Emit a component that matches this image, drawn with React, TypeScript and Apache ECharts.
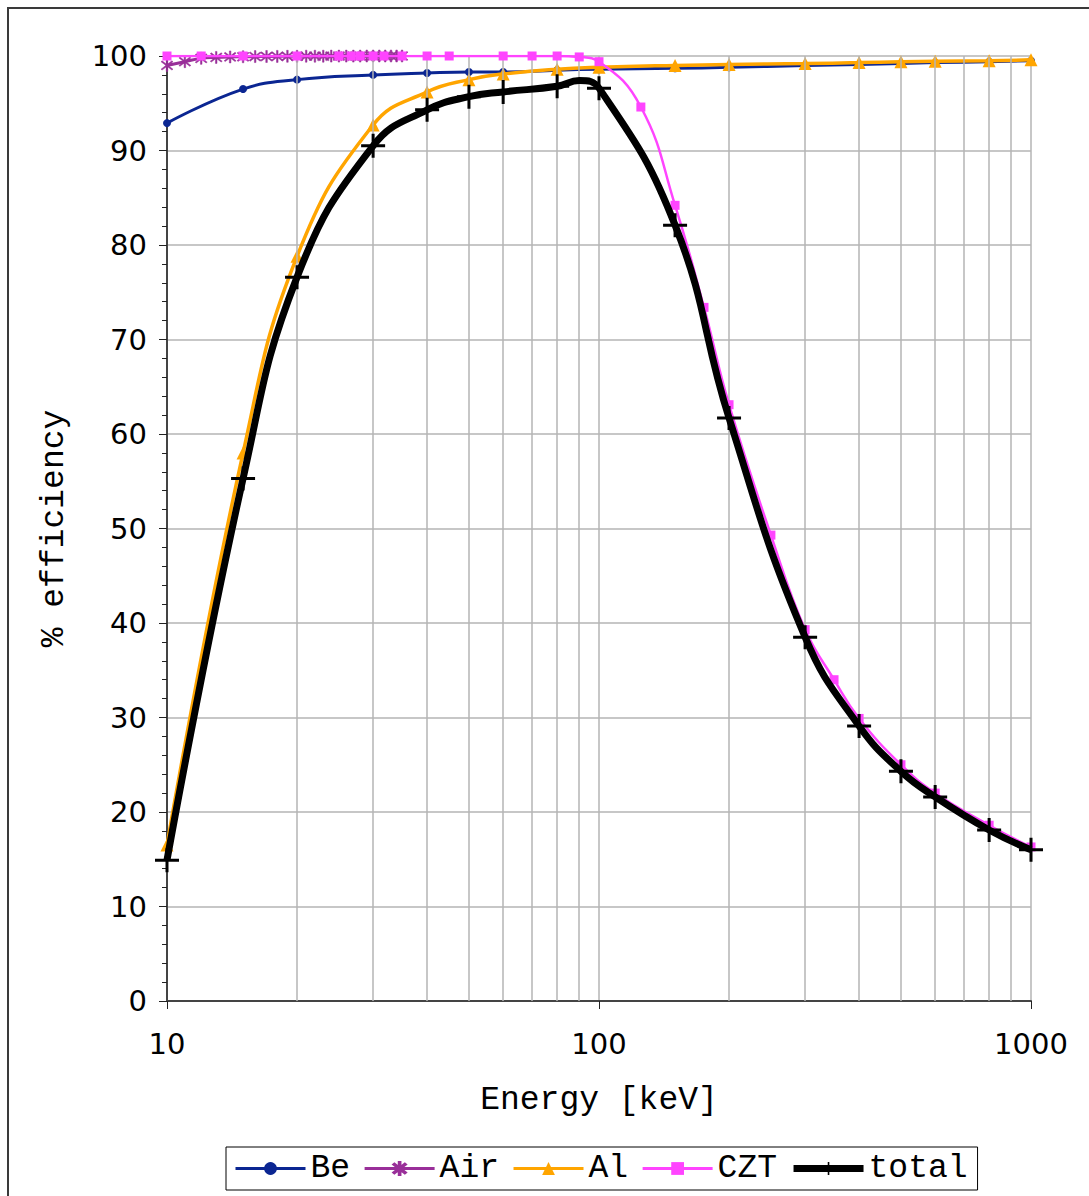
import React, { useEffect, useRef } from "react";
import * as echarts from "echarts";

const energies = [10, 15, 20, 30, 40, 50, 60, 80, 100, 150, 200, 300, 400, 500, 600, 800, 1000];
const beValues = [92.9, 96.5, 97.5, 98.0, 98.2, 98.3, 98.3, 98.5, 98.6, 98.7, 98.8, 99.0, 99.1, 99.2, 99.3, 99.4, 99.5];
const alValues = [16.5, 58.0, 78.8, 92.7, 96.2, 97.5, 98.1, 98.6, 98.8, 99.0, 99.1, 99.2, 99.3, 99.4, 99.45, 99.5, 99.6];

const airEnergies = [10, 11, 12, 13, 14, 15, 16, 17, 18, 19, 20, 21, 22, 23, 24, 25, 26, 27, 28, 29, 30, 31, 32, 33, 34, 35];
const airValues = [99.0, 99.4, 99.75, 99.85, 99.9, 99.92, 99.94, 99.95, 99.96, 99.97, 99.97, 99.98, 99.98, 99.98, 99.99, 99.99, 99.99, 99.99, 99.99, 100, 100, 100, 100, 100, 100, 100];

const cztEnergies = [10, 12, 15, 20, 25, 26.7, 28, 30, 31.8, 35, 40, 45, 60, 70, 80, 90, 100, 125, 150, 175, 200, 250, 300, 350, 400, 500, 600, 800, 1000];
const cztValues = [100, 100, 100, 100, 100, 100, 100, 100, 100, 100, 100, 100, 100, 100, 100, 99.9, 99.4, 94.6, 84.2, 73.4, 63.1, 49.3, 39.3, 34.0, 29.9, 25.0, 22.0, 18.6, 16.3];

const totalEnergies = [10, 15, 20, 30, 40, 50, 60, 80, 90, 100, 150, 200, 300, 400, 500, 600, 800, 1000];
const totalValues = [14.9, 55.3, 76.6, 90.5, 94.3, 95.7, 96.2, 96.8, 97.4, 96.6, 82.1, 61.7, 38.5, 29.1, 24.3, 21.6, 18.1, 16.0];
const totalUnmarked = [90];

const minorGridEnergies = [20, 30, 40, 50, 60, 70, 80, 90, 200, 300, 400, 500, 600, 700, 800, 900];
const tickEnergies = [10, 20, 30, 40, 50, 60, 70, 80, 90, 100, 200, 300, 400, 500, 600, 700, 800, 900, 1000];

const PLUS = "path://M-1.5,-12 L1.5,-12 L1.5,-1.5 L12,-1.5 L12,1.5 L1.5,1.5 L1.5,12 L-1.5,12 L-1.5,1.5 L-12,1.5 L-12,-1.5 L-1.5,-1.5 Z";
const STAR = "path://M-1,-10 L1,-10 L1,10 L-1,10 Z M-7.7,-6.3 L-6.3,-7.7 L7.7,6.3 L6.3,7.7 Z M-7.7,6.3 L6.3,-7.7 L7.7,-6.3 L-6.3,7.7 Z";

const MONO = "Liberation Mono";
const SANS = "DejaVu Sans";

export default function App() {
  const ref = useRef<HTMLDivElement>(null);
  useEffect(() => {
    if (!ref.current) return;
    const chart = echarts.init(ref.current, null, { renderer: "svg" });
    const zip = (xs: number[], ys: number[]) => xs.map((x, i) => [x, ys[i]]);
    const SMOOTH = 0.45;
    const option: any = {
      animation: false,
      backgroundColor: "#ffffff",
      graphic: [
        {
          type: "rect",
          shape: { x: 8, y: 8, width: 1100, height: 1200 },
          style: { fill: "none", stroke: "#3a3a3a", lineWidth: 2 },
          silent: true,
        },
      ],
      grid: { left: 167, right: 58, top: 56, bottom: 195, containLabel: false },
      legend: {
        data: [
          { name: "Be", lineStyle: { width: 3 } },
          { name: "Air", lineStyle: { width: 3 } },
          { name: "Al", lineStyle: { width: 3 } },
          { name: "CZT", lineStyle: { width: 3 } },
          { name: "total", lineStyle: { width: 7 } },
        ],
        left: 226,
        top: 1147,
        orient: "horizontal",
        itemWidth: 70,
        itemHeight: 16,
        itemGap: 13,
        padding: [5, 10, 5, 8],
        borderColor: "#000",
        borderWidth: 1,
        textStyle: { fontFamily: MONO, fontSize: 33, color: "#000" },
      },
      xAxis: {
        type: "log",
        logBase: 10,
        min: 10,
        max: 1000,
        name: "Energy [keV]",
        nameLocation: "middle",
        nameGap: 83,
        nameTextStyle: { fontFamily: MONO, fontSize: 33, color: "#000" },
        axisLine: { show: true, onZero: false, lineStyle: { color: "#444", width: 2 } },
        axisTick: { show: true, length: 8, lineStyle: { color: "#222", width: 1 } },
        axisLabel: { fontFamily: SANS, fontSize: 29, color: "#000", margin: 28, formatter: (v: number) => String(Math.round(v)) },
        splitLine: { show: true, lineStyle: { color: "#b4b4b4", width: 1.5 } },
        minorTick: { show: false },
        minorSplitLine: { show: false },
      },
      yAxis: {
        type: "value",
        min: 0,
        max: 100,
        interval: 10,
        name: "% efficiency",
        nameLocation: "middle",
        nameGap: 96,
        nameRotate: 90,
        nameTextStyle: { fontFamily: MONO, fontSize: 33, color: "#000" },
        axisLine: { show: true, lineStyle: { color: "#444", width: 2 } },
        axisTick: { show: true, length: 8, lineStyle: { color: "#222", width: 1 } },
        minorTick: { show: true, splitNumber: 5, length: 5, lineStyle: { color: "#222", width: 1 } },
        axisLabel: { fontFamily: SANS, fontSize: 29, color: "#000", margin: 20 },
        splitLine: { show: true, lineStyle: { color: "#b4b4b4", width: 1.5 } },
      },
      series: [
        {
          name: "grid",
          type: "line",
          data: [],
          clip: false,
          silent: true,
          z: 0,
          markLine: {
            silent: true,
            symbol: "none",
            label: { show: false },
            animation: false,
            lineStyle: { color: "#b4b4b4", width: 1.5, type: "solid" },
            data: minorGridEnergies.map((e) => ({ xAxis: e })),
          },
        },
        {
          name: "ticks",
          type: "line",
          data: [],
          clip: false,
          silent: true,
          z: 0,
          markLine: {
            silent: true,
            symbol: "none",
            label: { show: false },
            animation: false,
            lineStyle: { color: "#222", width: 1, type: "solid" },
            data: tickEnergies.map((e) => [{ coord: [e, 0] }, { coord: [e, -0.85] }]),
          },
        },
        {
          name: "Be",
          type: "line",
          smooth: SMOOTH,
          data: zip(energies, beValues),
          symbol: "circle",
          symbolSize: 8,
          lineStyle: { color: "#0b2692", width: 3 },
          itemStyle: { color: "#0b2692" },
          z: 2,
        },
        {
          name: "Air",
          type: "line",
          smooth: SMOOTH,
          data: zip(airEnergies, airValues),
          symbol: STAR,
          symbolSize: 12,
          lineStyle: { color: "#992f99", width: 3 },
          itemStyle: { color: "#992f99", borderColor: "#992f99", borderWidth: 0.5 },
          z: 3,
        },
        {
          name: "Al",
          type: "line",
          smooth: SMOOTH,
          data: zip(energies, alValues),
          symbol: "triangle",
          symbolSize: 13,
          lineStyle: { color: "#ffa500", width: 3.5 },
          itemStyle: { color: "#ffa500" },
          z: 4,
        },
        {
          name: "CZT",
          type: "line",
          smooth: SMOOTH,
          data: zip(cztEnergies, cztValues),
          symbol: "rect",
          symbolSize: 9,
          lineStyle: { color: "#ff44ff", width: 2.5 },
          itemStyle: { color: "#ff44ff" },
          z: 5,
        },
        {
          name: "total",
          type: "line",
          smooth: SMOOTH,
          data: totalEnergies.map((e, i) =>
            totalUnmarked.includes(e)
              ? { value: [e, totalValues[i]], symbol: "none" }
              : { value: [e, totalValues[i]] }
          ),
          symbol: PLUS,
          symbolSize: 24,
          lineStyle: { color: "#000", width: 7 },
          itemStyle: { color: "#000" },
          z: 6,
        },
      ],
    };
    chart.setOption(option);
    return () => chart.dispose();
  }, []);
  return <div ref={ref} style={{ width: 1089, height: 1196, position: "absolute", left: 0, top: 0 }} />;
}
